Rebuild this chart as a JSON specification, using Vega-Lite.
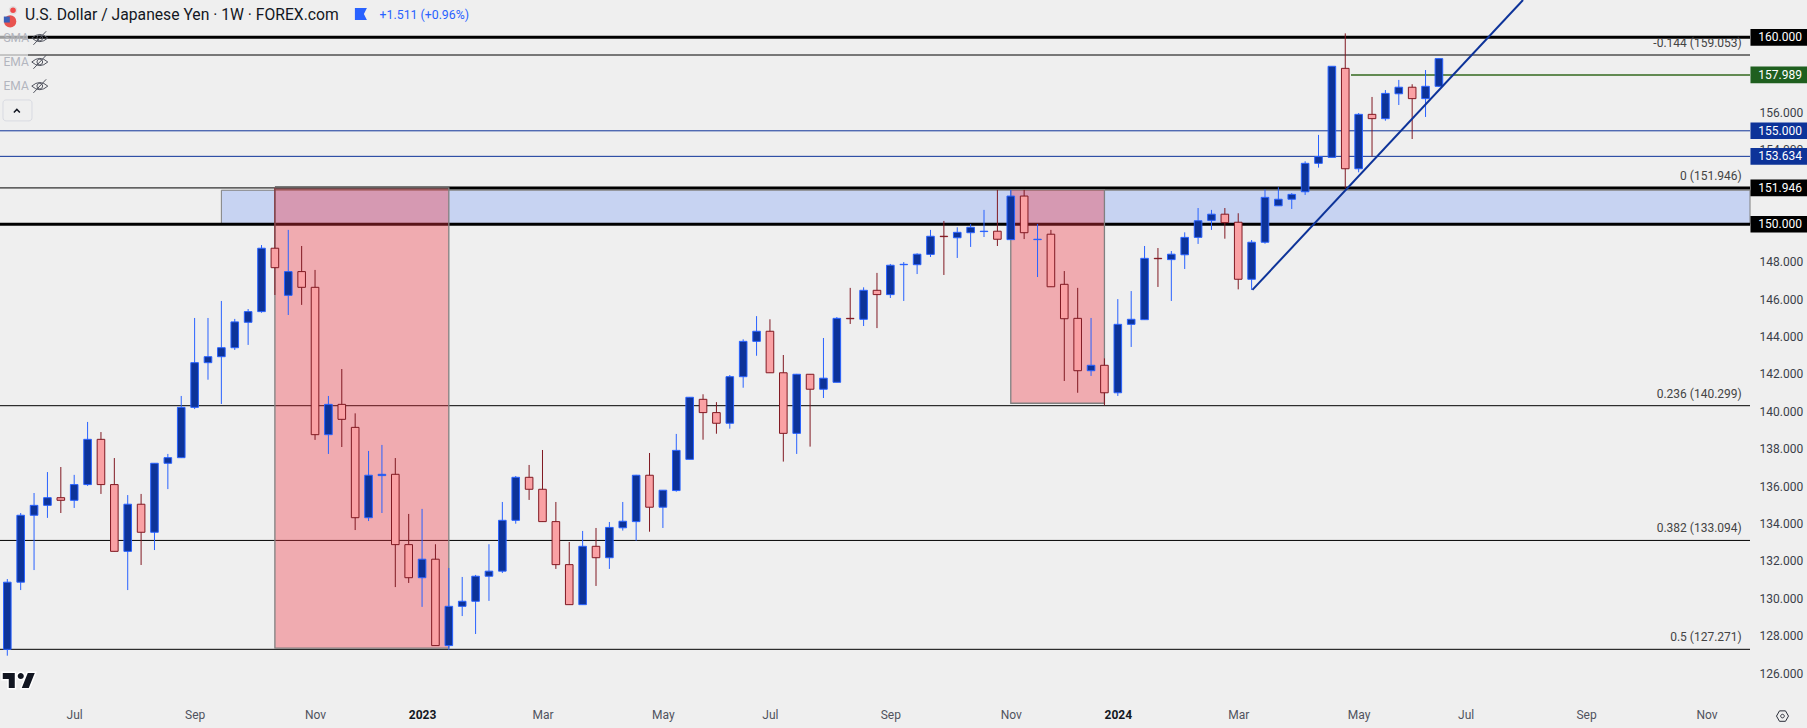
{
"$schema":"https://vega.github.io/schema/vega-lite/v6.json",
"width":1750,"height":703,
"autosize":{"type":"none"},
"padding":{"left":0,"top":0,"right":57,"bottom":25},
"background":"#efefef",
"config":{"text":{"font":"Roboto"},"view":{"stroke":null},"axis":{"grid":false,"domain":false,"ticks":false,"labelFont":"Roboto","labelFontSize":12,"labelColor":"#3a3e49"}},
"resolve":{"scale":{"color":"independent","fill":"independent","stroke":"independent"}},
"datasets":{
"candles":[
{"date":"2022-05-30","open":127.27,"high":131.03,"low":126.93,"close":130.86},
{"date":"2022-06-06","open":130.86,"high":134.56,"low":130.44,"close":134.44},
{"date":"2022-06-13","open":134.44,"high":135.63,"low":131.51,"close":134.97},
{"date":"2022-06-20","open":134.97,"high":136.75,"low":134.30,"close":135.38},
{"date":"2022-06-27","open":135.38,"high":137.02,"low":134.56,"close":135.24},
{"date":"2022-07-04","open":135.24,"high":136.60,"low":134.83,"close":136.08},
{"date":"2022-07-11","open":136.08,"high":139.43,"low":136.01,"close":138.50},
{"date":"2022-07-18","open":138.50,"high":138.89,"low":135.58,"close":136.08},
{"date":"2022-07-25","open":136.08,"high":137.50,"low":132.51,"close":132.51},
{"date":"2022-08-01","open":132.51,"high":135.52,"low":130.44,"close":135.03},
{"date":"2022-08-08","open":135.03,"high":135.58,"low":131.78,"close":133.53},
{"date":"2022-08-15","open":133.53,"high":137.22,"low":132.58,"close":137.22},
{"date":"2022-08-22","open":137.22,"high":137.72,"low":135.84,"close":137.52},
{"date":"2022-08-29","open":137.52,"high":140.82,"low":137.50,"close":140.21},
{"date":"2022-09-05","open":140.21,"high":144.99,"low":140.12,"close":142.60},
{"date":"2022-09-12","open":142.60,"high":144.99,"low":141.69,"close":142.92},
{"date":"2022-09-19","open":142.92,"high":145.90,"low":140.39,"close":143.40},
{"date":"2022-09-26","open":143.40,"high":144.94,"low":143.28,"close":144.78},
{"date":"2022-10-03","open":144.76,"high":145.47,"low":143.55,"close":145.33},
{"date":"2022-10-10","open":145.33,"high":148.89,"low":145.27,"close":148.72},
{"date":"2022-10-17","open":148.72,"high":151.95,"low":146.22,"close":147.68},
{"date":"2022-10-24","open":146.20,"high":149.70,"low":145.15,"close":147.47},
{"date":"2022-10-31","open":147.47,"high":148.84,"low":145.69,"close":146.63},
{"date":"2022-11-07","open":146.63,"high":147.56,"low":138.47,"close":138.75},
{"date":"2022-11-14","open":138.75,"high":140.82,"low":137.72,"close":140.37},
{"date":"2022-11-21","open":140.37,"high":142.26,"low":138.09,"close":139.57},
{"date":"2022-11-28","open":139.14,"high":139.89,"low":133.65,"close":134.31},
{"date":"2022-12-05","open":134.31,"high":137.88,"low":134.13,"close":136.58},
{"date":"2022-12-12","open":136.56,"high":138.20,"low":134.56,"close":136.63},
{"date":"2022-12-19","open":136.63,"high":137.50,"low":130.60,"close":132.87},
{"date":"2022-12-26","open":132.87,"high":134.51,"low":130.82,"close":131.10},
{"date":"2023-01-02","open":131.10,"high":134.78,"low":129.54,"close":132.09},
{"date":"2023-01-09","open":132.09,"high":132.89,"low":127.47,"close":127.47},
{"date":"2023-01-16","open":127.47,"high":131.62,"low":127.24,"close":129.57},
{"date":"2023-01-23","open":129.57,"high":131.14,"low":129.05,"close":129.84},
{"date":"2023-01-30","open":129.84,"high":131.25,"low":128.09,"close":131.18},
{"date":"2023-02-06","open":131.18,"high":132.89,"low":129.86,"close":131.45},
{"date":"2023-02-13","open":131.45,"high":135.15,"low":131.35,"close":134.17},
{"date":"2023-02-20","open":134.17,"high":136.54,"low":133.99,"close":136.47},
{"date":"2023-02-27","open":136.47,"high":137.13,"low":135.26,"close":135.83},
{"date":"2023-03-06","open":135.83,"high":137.93,"low":134.10,"close":134.10},
{"date":"2023-03-13","open":134.10,"high":135.15,"low":131.57,"close":131.80},
{"date":"2023-03-20","open":131.80,"high":133.01,"low":129.66,"close":129.66},
{"date":"2023-03-27","open":129.66,"high":133.60,"low":129.66,"close":132.78},
{"date":"2023-04-03","open":132.78,"high":133.76,"low":130.66,"close":132.17},
{"date":"2023-04-10","open":132.17,"high":134.08,"low":131.57,"close":133.79},
{"date":"2023-04-17","open":133.77,"high":135.15,"low":133.62,"close":134.12},
{"date":"2023-04-24","open":134.10,"high":136.60,"low":133.08,"close":136.58},
{"date":"2023-05-01","open":136.58,"high":137.77,"low":133.56,"close":134.87},
{"date":"2023-05-08","open":134.87,"high":135.79,"low":133.76,"close":135.78},
{"date":"2023-05-15","open":135.76,"high":138.79,"low":135.70,"close":137.91},
{"date":"2023-05-22","open":137.43,"high":140.76,"low":137.43,"close":140.75},
{"date":"2023-05-29","open":140.64,"high":140.91,"low":138.48,"close":139.93},
{"date":"2023-06-05","open":139.93,"high":140.49,"low":138.80,"close":139.36},
{"date":"2023-06-12","open":139.36,"high":141.94,"low":139.07,"close":141.85},
{"date":"2023-06-19","open":141.85,"high":143.85,"low":141.26,"close":143.74},
{"date":"2023-06-26","open":143.74,"high":145.09,"low":142.97,"close":144.28},
{"date":"2023-07-03","open":144.28,"high":144.92,"low":142.06,"close":142.06},
{"date":"2023-07-10","open":142.06,"high":143.01,"low":137.31,"close":138.82},
{"date":"2023-07-17","open":138.82,"high":142.00,"low":137.72,"close":141.98},
{"date":"2023-07-24","open":141.98,"high":141.98,"low":138.11,"close":141.18},
{"date":"2023-07-31","open":141.18,"high":143.92,"low":140.71,"close":141.77},
{"date":"2023-08-07","open":141.55,"high":145.04,"low":141.55,"close":144.97},
{"date":"2023-08-14","open":144.97,"high":146.60,"low":144.67,"close":144.95},
{"date":"2023-08-21","open":144.92,"high":146.63,"low":144.56,"close":146.47},
{"date":"2023-08-28","open":146.47,"high":147.40,"low":144.45,"close":146.24},
{"date":"2023-09-04","open":146.24,"high":147.88,"low":146.06,"close":147.81},
{"date":"2023-09-11","open":147.84,"high":147.98,"low":145.90,"close":147.86},
{"date":"2023-09-18","open":147.84,"high":148.45,"low":147.34,"close":148.40},
{"date":"2023-09-25","open":148.39,"high":149.70,"low":148.25,"close":149.36},
{"date":"2023-10-02","open":149.36,"high":150.18,"low":147.29,"close":149.34},
{"date":"2023-10-09","open":149.28,"high":149.84,"low":148.20,"close":149.57},
{"date":"2023-10-16","open":149.55,"high":150.02,"low":148.79,"close":149.84},
{"date":"2023-10-23","open":149.61,"high":150.77,"low":149.32,"close":149.63},
{"date":"2023-10-30","open":149.63,"high":151.84,"low":148.84,"close":149.20},
{"date":"2023-11-06","open":149.18,"high":151.84,"low":149.18,"close":151.51},
{"date":"2023-11-13","open":151.51,"high":151.84,"low":149.21,"close":149.55},
{"date":"2023-11-20","open":149.18,"high":150.02,"low":147.18,"close":149.20},
{"date":"2023-11-27","open":149.47,"high":149.70,"low":146.66,"close":146.66},
{"date":"2023-12-04","open":146.79,"high":147.50,"low":141.62,"close":144.95},
{"date":"2023-12-11","open":144.97,"high":146.60,"low":140.99,"close":142.17},
{"date":"2023-12-18","open":142.17,"high":144.99,"low":141.89,"close":142.46},
{"date":"2023-12-25","open":142.46,"high":142.83,"low":140.32,"close":140.99},
{"date":"2024-01-01","open":140.99,"high":146.00,"low":140.82,"close":144.65},
{"date":"2024-01-08","open":144.65,"high":146.43,"low":143.44,"close":144.92},
{"date":"2024-01-15","open":144.90,"high":148.84,"low":144.90,"close":148.18},
{"date":"2024-01-22","open":148.18,"high":148.73,"low":146.65,"close":148.16},
{"date":"2024-01-29","open":148.11,"high":148.57,"low":145.90,"close":148.40},
{"date":"2024-02-05","open":148.37,"high":149.57,"low":147.61,"close":149.30},
{"date":"2024-02-12","open":149.30,"high":150.87,"low":148.95,"close":150.19},
{"date":"2024-02-19","open":150.21,"high":150.77,"low":149.70,"close":150.54},
{"date":"2024-02-26","open":150.54,"high":150.87,"low":149.23,"close":150.09},
{"date":"2024-03-04","open":150.11,"high":150.59,"low":146.52,"close":147.06},
{"date":"2024-03-11","open":147.06,"high":149.16,"low":146.49,"close":149.04},
{"date":"2024-03-18","open":149.04,"high":151.87,"low":148.96,"close":151.44},
{"date":"2024-03-25","open":150.99,"high":151.98,"low":150.99,"close":151.34},
{"date":"2024-04-01","open":151.34,"high":151.67,"low":150.82,"close":151.60},
{"date":"2024-04-08","open":151.74,"high":153.37,"low":151.57,"close":153.26},
{"date":"2024-04-15","open":153.26,"high":154.78,"low":153.03,"close":153.62},
{"date":"2024-04-22","open":153.58,"high":158.45,"low":153.58,"close":158.45},
{"date":"2024-04-29","open":158.34,"high":160.21,"low":151.93,"close":152.97},
{"date":"2024-05-06","open":152.97,"high":155.95,"low":152.78,"close":155.88},
{"date":"2024-05-13","open":155.88,"high":156.81,"low":153.62,"close":155.65},
{"date":"2024-05-20","open":155.65,"high":157.18,"low":155.54,"close":157.00},
{"date":"2024-05-27","open":156.98,"high":157.72,"low":156.38,"close":157.33},
{"date":"2024-06-03","open":157.33,"high":157.49,"low":154.56,"close":156.72},
{"date":"2024-06-10","open":156.72,"high":158.25,"low":155.74,"close":157.38},
{"date":"2024-06-17","open":157.38,"high":158.86,"low":157.34,"close":158.86}
],
"zone":[{"date":"2022-09-19","date2":"2024-11-26T18:00:00Z","price":151.82,"price2":150.0}],
"redboxes":[
{"date":"2022-10-17","date2":"2023-01-16","price":151.95,"price2":127.33},
{"date":"2023-11-06","date2":"2023-12-25","price":151.85,"price2":140.43}
],
"fib":[{"price":159.053,"label":"-0.144 (159.053)","date":"2024-11-22T10:00:00Z","start":"2022-05-26T04:20:00Z","end":"2024-11-26T18:00:00Z"},{"price":151.946,"label":"0 (151.946)","date":"2024-11-22T10:00:00Z","start":"2022-05-26T04:20:00Z","end":"2024-11-26T18:00:00Z"},{"price":140.299,"label":"0.236 (140.299)","date":"2024-11-22T10:00:00Z","start":"2022-05-26T04:20:00Z","end":"2024-11-26T18:00:00Z"},{"price":133.094,"label":"0.382 (133.094)","date":"2024-11-22T10:00:00Z","start":"2022-05-26T04:20:00Z","end":"2024-11-26T18:00:00Z"},{"price":127.271,"label":"0.5 (127.271)","date":"2024-11-22T10:00:00Z","start":"2022-05-26T04:20:00Z","end":"2024-11-26T18:00:00Z"}],
"thick":[{"price":160.0,"date":"2022-05-26T04:20:00Z","date2":"2024-11-26T18:00:00Z"},{"price":150.0,"date":"2022-05-26T04:20:00Z","date2":"2024-11-26T18:00:00Z"},{"date":"2022-10-17","date2":"2024-11-26T18:00:00Z","price":151.946}],
"blue":[{"price":155.0,"date":"2022-05-26T04:20:00Z","date2":"2024-11-26T18:00:00Z"},{"price":153.634,"date":"2022-05-26T04:20:00Z","date2":"2024-11-26T18:00:00Z"}],
"green":[{"date":"2024-05-02","date2":"2024-11-26T18:00:00Z","price":157.989}],
"trend":[{"date":"2024-03-11T10:00:00Z","price":146.49},{"date":"2024-07-31T00:00:00Z","price":161.995}],
"tags":[
{"price":160.0,"lo":159.555,"hi":160.445,"label":"160.000","date":"2024-11-27T00:00:00Z","date2":"2024-12-27T00:00:00Z","mid":"2024-12-12T12:00:00Z"},
{"price":151.946,"lo":151.501,"hi":152.391,"label":"151.946","date":"2024-11-27T00:00:00Z","date2":"2024-12-27T00:00:00Z","mid":"2024-12-12T12:00:00Z"},
{"price":150.0,"lo":149.555,"hi":150.445,"label":"150.000","date":"2024-11-27T00:00:00Z","date2":"2024-12-27T00:00:00Z","mid":"2024-12-12T12:00:00Z"}
],
"tagsgreen":[
{"price":157.989,"lo":157.544,"hi":158.434,"label":"157.989","date":"2024-11-27T00:00:00Z","date2":"2024-12-27T00:00:00Z","mid":"2024-12-12T12:00:00Z"}
],
"tagsblue":[
{"price":155.0,"lo":154.555,"hi":155.445,"label":"155.000","date":"2024-11-27T00:00:00Z","date2":"2024-12-27T00:00:00Z","mid":"2024-12-12T12:00:00Z"},
{"price":153.634,"lo":153.189,"hi":154.079,"label":"153.634","date":"2024-11-27T00:00:00Z","date2":"2024-12-27T00:00:00Z","mid":"2024-12-12T12:00:00Z"}
]
},
"encoding":{
"x":{"field":"date","type":"temporal","scale":{"type":"utc","nice":false,"padding":0,"domain":["2022-05-26T04:20:00Z","2024-11-26T18:00:00Z"]},
  "axis":{"title":null,"labelPadding":6,"values":[{"year":2022,"month":7,"date":4,"utc":true},{"year":2022,"month":9,"date":5,"utc":true},{"year":2022,"month":11,"date":7,"utc":true},{"year":2023,"month":1,"date":2,"utc":true},{"year":2023,"month":3,"date":6,"utc":true},{"year":2023,"month":5,"date":8,"utc":true},{"year":2023,"month":7,"date":3,"utc":true},{"year":2023,"month":9,"date":4,"utc":true},{"year":2023,"month":11,"date":6,"utc":true},{"year":2024,"month":1,"date":1,"utc":true},{"year":2024,"month":3,"date":4,"utc":true},{"year":2024,"month":5,"date":6,"utc":true},{"year":2024,"month":7,"date":1,"utc":true},{"year":2024,"month":9,"date":2,"utc":true},{"year":2024,"month":11,"date":4,"utc":true}],
   "labelOverlap":false,"labelFlush":false,
   "labelColor":{"condition":{"test":"utcmonth(datum.value)==0","value":"#131722"},"value":"#50535e"},
   "labelFontWeight":{"condition":{"test":"utcmonth(datum.value)==0","value":"bold"},"value":"normal"},
   "labelExpr":"utcmonth(datum.value)==0 ? utcFormat(datum.value,'%Y') : utcFormat(datum.value,'%b')"}},
"y":{"field":"price","type":"quantitative","scale":{"domain":[124.4,161.995],"zero":false,"nice":false},
  "axis":{"title":null,"orient":"right","labelPadding":9,"format":".3f","labelOverlap":false,"labelFlush":false,"values":[126,128,130,132,134,136,138,140,142,144,146,148,150,152,154,156,158,160,162]}}
},
"layer":[
{"data":{"name":"zone","format":{"parse":{"date":"date","date2":"date"}}},
 "mark":{"type":"rect","fill":"#2962ff","fillOpacity":0.2,"stroke":"#808080","strokeWidth":1},
 "encoding":{"x2":{"field":"date2"},"y2":{"field":"price2"}}},
{"data":{"name":"fib","format":{"parse":{"date":"date","start":"date","end":"date"}}},"transform":[{"calculate":"datum.start","as":"date"}],"mark":{"type":"rule","color":"#000000","strokeWidth":1},
 "encoding":{"x2":{"field":"end"}}},
{"data":{"name":"thick","format":{"parse":{"date":"date","date2":"date"}}},"mark":{"type":"rule","color":"#000000","strokeWidth":3},"encoding":{"x2":{"field":"date2"}}},
{"data":{"name":"blue","format":{"parse":{"date":"date","date2":"date"}}},"mark":{"type":"rule","color":"#0d3399","strokeWidth":1},"encoding":{"x2":{"field":"date2"}}},
{"data":{"name":"redboxes","format":{"parse":{"date":"date","date2":"date"}}},
 "mark":{"type":"rect","fill":"#f23645","fillOpacity":0.37,"stroke":"#808080","strokeWidth":1.3},
 "encoding":{"x2":{"field":"date2"},"y2":{"field":"price2"}}},
{"data":{"name":"green","format":{"parse":{"date":"date","date2":"date"}}},"mark":{"type":"rule","color":"#33691e","strokeWidth":1.5},"encoding":{"x2":{"field":"date2"}}},
{"data":{"name":"candles"},
 "transform":[{"calculate":"datum.close>=datum.open?'up':'down'","as":"dir"}],
 "mark":{"type":"rule","strokeWidth":1},
 "encoding":{
  "y":{"field":"low","type":"quantitative","axis":{"title":null},"scale":{"domain":[124.4,161.995],"zero":false,"nice":false}},
  "y2":{"field":"high"},
  "color":{"field":"dir","type":"nominal","legend":null,"scale":{"domain":["up","down"],"range":["#2962ff","#801922"]}}}},
{"data":{"name":"candles"},
 "transform":[{"calculate":"datum.close>=datum.open?'up':'down'","as":"dir"}],
 "mark":{"type":"bar","size":7.6,"strokeWidth":1},
 "encoding":{
  "y":{"field":"open","type":"quantitative","axis":{"title":null},"scale":{"domain":[124.4,161.995],"zero":false,"nice":false}},
  "y2":{"field":"close"},
  "fill":{"field":"dir","type":"nominal","legend":null,"scale":{"domain":["up","down"],"range":["#0d3399","#faa1a4"]}},
  "stroke":{"field":"dir","type":"nominal","legend":null,"scale":{"domain":["up","down"],"range":["#2962ff","#801922"]}}}},
{"data":{"name":"trend","format":{"parse":{"date":"date"}}},"mark":{"type":"line","color":"#0d3399","strokeWidth":2}},
{"data":{"name":"fib","format":{"parse":{"date":"date"}}},"mark":{"type":"text","align":"right","dy":-12,"fontSize":12,"color":"#444444"},
 "encoding":{"text":{"field":"label"}}},
{"data":{"name":"tags","format":{"parse":{"date":"date","date2":"date"}}},"mark":{"type":"rect","fill":"#000000"},
 "encoding":{"x2":{"field":"date2"},
 "y":{"field":"hi","type":"quantitative","axis":{"title":null},"scale":{"domain":[124.4,161.995],"zero":false,"nice":false}},"y2":{"field":"lo"}}},
{"data":{"name":"tagsgreen","format":{"parse":{"date":"date","date2":"date"}}},"mark":{"type":"rect","fill":"#1f5f1f"},
 "encoding":{"x2":{"field":"date2"},
 "y":{"field":"hi","type":"quantitative","axis":{"title":null},"scale":{"domain":[124.4,161.995],"zero":false,"nice":false}},"y2":{"field":"lo"}}},
{"data":{"name":"tagsblue","format":{"parse":{"date":"date","date2":"date"}}},"mark":{"type":"rect","fill":"#0d3399"},
 "encoding":{"x2":{"field":"date2"},
 "y":{"field":"hi","type":"quantitative","axis":{"title":null},"scale":{"domain":[124.4,161.995],"zero":false,"nice":false}},"y2":{"field":"lo"}}},
{"data":{"name":"tags","format":{"parse":{"mid":"date"}}},"mark":{"type":"text","align":"center","baseline":"middle","fontSize":12,"color":"#ffffff"},
 "encoding":{"x":{"field":"mid","type":"temporal","axis":{"title":null},"scale":{"type":"utc","nice":false,"padding":0,"domain":["2022-05-26T04:20:00Z","2024-11-26T18:00:00Z"]}},"text":{"field":"label"}}},
{"data":{"name":"tagsgreen","format":{"parse":{"mid":"date"}}},"mark":{"type":"text","align":"center","baseline":"middle","fontSize":12,"color":"#ffffff"},
 "encoding":{"x":{"field":"mid","type":"temporal","axis":{"title":null},"scale":{"type":"utc","nice":false,"padding":0,"domain":["2022-05-26T04:20:00Z","2024-11-26T18:00:00Z"]}},"text":{"field":"label"}}},
{"data":{"name":"tagsblue","format":{"parse":{"mid":"date"}}},"mark":{"type":"text","align":"center","baseline":"middle","fontSize":12,"color":"#ffffff"},
 "encoding":{"x":{"field":"mid","type":"temporal","axis":{"title":null},"scale":{"type":"utc","nice":false,"padding":0,"domain":["2022-05-26T04:20:00Z","2024-11-26T18:00:00Z"]}},"text":{"field":"label"}}},
{"data":{"values":[{"date":"2022-06-08T06:00:00Z","price":161.21,"label":"U.S. Dollar / Japanese Yen · 1W · FOREX.com"}]},
 "mark":{"type":"text","align":"left","baseline":"middle","fontSize":15.7,"color":"#131722"},"encoding":{"text":{"field":"label"}}},
{"data":{"values":[{"date":"2022-12-10T19:00:00Z","price":161.21,"label":"+1.511 (+0.96%)"}]},
 "mark":{"type":"text","align":"left","baseline":"middle","fontSize":12.3,"color":"#2962ff"},"encoding":{"text":{"field":"label"}}},
{"data":{"values":[{"date":"2022-12-01T00:00:00Z","price":161.25}]},
 "mark":{"type":"point","shape":"M-1,-1 L1,-1 L0.5,0 L1,1 L-1,1 Z","size":144,"filled":true,"color":"#2962ff","opacity":1}},
{"data":{"values":[{"date":"2022-05-31T12:00:00Z","price":160.85}]},
 "mark":{"type":"point","shape":"circle","size":150,"filled":true,"color":"#e8534f","opacity":1}},
{"data":{"values":[{"date":"2022-05-29T18:00:00Z","price":160.95}]},
 "mark":{"type":"point","shape":"square","size":36,"filled":true,"color":"#3a5fb8","opacity":1}},
{"data":{"values":[{"date":"2022-06-02T00:00:00Z","price":161.45}]},
 "mark":{"type":"point","shape":"circle","size":50,"filled":true,"color":"#f04a4a","stroke":"#e0e0e0","strokeWidth":1.5,"opacity":1}},
{"data":{"values":[{"date":"2022-05-26T04:20:00Z","date2":"2022-06-09T20:00:00Z","price":160.39,"price2":158.89}],"format":{"parse":{"date":"date","date2":"date"}}},
 "mark":{"type":"rect","fill":"#efefef","fillOpacity":0.65},"encoding":{"x2":{"field":"date2"},"y2":{"field":"price2"}}},
{"data":{"values":[{"date":"2022-05-28T00:00:00Z","price":159.96,"label":"SMA"},{"date":"2022-05-28T00:00:00Z","price":158.68,"label":"EMA"},{"date":"2022-05-28T00:00:00Z","price":157.39,"label":"EMA"}]},
 "mark":{"type":"text","align":"left","baseline":"middle","fontSize":12,"color":"#b2b5be"},"encoding":{"text":{"field":"label"}}},
{"data":{"values":[{"date":"2022-06-16T00:00:00Z","price":159.96},{"date":"2022-06-16T00:00:00Z","price":158.68},{"date":"2022-06-16T00:00:00Z","price":157.39}]},
 "mark":{"type":"point","shape":"M-1,0 Q0,-0.9 1,0 Q0,0.9 -1,0 Z M0.8,-0.85 L-0.8,0.85 M-0.35,0 A0.35,0.35 0 1 0 0.35,0 A0.35,0.35 0 1 0 -0.35,0 Z","size":256,"filled":false,"color":"#50535e","strokeWidth":1,"opacity":1}},
{"data":{"values":[{"date":"2022-05-27T18:00:00Z","date2":"2022-06-11T22:00:00Z","price":156.65,"price2":155.53}],"format":{"parse":{"date":"date","date2":"date"}}},
 "mark":{"type":"rect","fillOpacity":0,"stroke":"#d9dbe2","strokeWidth":1,"cornerRadius":3},"encoding":{"x2":{"field":"date2"},"y2":{"field":"price2"}}},
{"data":{"values":[{"date":"2022-06-04T00:00:00Z","price":156.08}]},
 "mark":{"type":"point","shape":"M-1,0.6 L0,-0.4 L1,0.6","size":36,"filled":false,"color":"#131722","strokeWidth":1.5,"opacity":1}},
{"data":{"values":[{"date":"2022-06-05T00:00:00Z","price":125.6}]},
 "mark":{"type":"point","shape":"M-1,-0.47 L-0.25,-0.47 L-0.25,0.47 L-0.625,0.47 L-0.625,-0.094 L-1,-0.094 Z M0.625,0.47 L0.1875,0.47 L0.5625,-0.47 L1,-0.47 Z M-0.065,-0.28 A0.19,0.19 0 1 0 0.315,-0.28 A0.19,0.19 0 1 0 -0.065,-0.28 Z","size":1024,"filled":true,"color":"#ffffff","stroke":"#ffffff","strokeWidth":3,"opacity":1}},
{"data":{"values":[{"date":"2022-06-05T00:00:00Z","price":125.6}]},
 "mark":{"type":"point","shape":"M-1,-0.47 L-0.25,-0.47 L-0.25,0.47 L-0.625,0.47 L-0.625,-0.094 L-1,-0.094 Z M0.625,0.47 L0.1875,0.47 L0.5625,-0.47 L1,-0.47 Z M-0.065,-0.28 A0.19,0.19 0 1 0 0.315,-0.28 A0.19,0.19 0 1 0 -0.065,-0.28 Z","size":1024,"filled":true,"color":"#131722","opacity":1}},
{"data":{"values":[{"date":"2024-12-13T18:00:00Z","price":123.7}]},
 "mark":{"type":"point","shape":"M-1,0 L-0.5,-0.87 L0.5,-0.87 L1,0 L0.5,0.87 L-0.5,0.87 Z M-0.3,0 A0.3,0.3 0 1 0 0.3,0 A0.3,0.3 0 1 0 -0.3,0 Z","size":144,"filled":false,"color":"#2a2e39","strokeWidth":1,"opacity":1}}
]
}
